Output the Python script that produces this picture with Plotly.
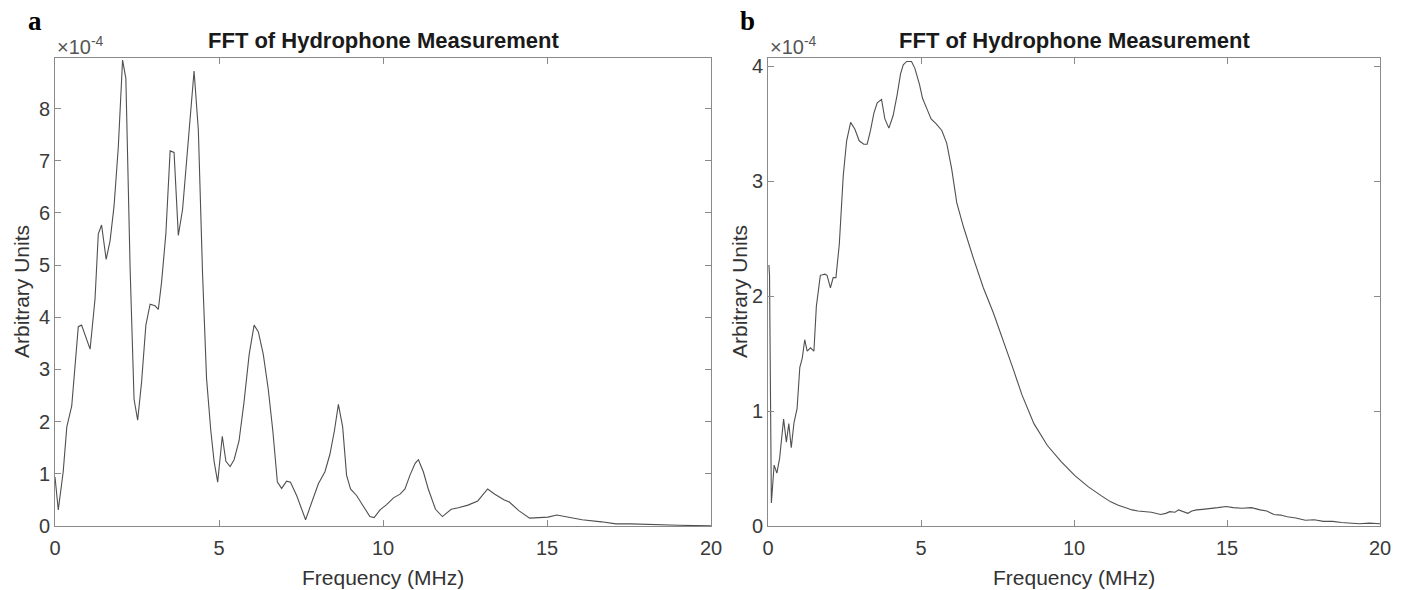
import plotly.graph_objects as go

# ---------------- data (amplitude in units of 1e-4) ----------------
freq_a = [0.0, 0.1, 0.25, 0.36, 0.51, 0.71, 0.81, 1.07, 1.22, 1.32, 1.42, 1.56, 1.68, 1.8, 1.93,
          2.06, 2.16, 2.29, 2.41, 2.52, 2.64, 2.77, 2.9, 3.05, 3.15, 3.25, 3.38, 3.51, 3.63, 3.76,
          3.89, 4.01, 4.12, 4.24, 4.37, 4.5, 4.62, 4.75, 4.85, 4.96, 5.1, 5.21, 5.34, 5.46, 5.61,
          5.76, 5.92, 6.07, 6.2, 6.35, 6.5, 6.64, 6.78, 6.91, 7.06, 7.18, 7.37, 7.64, 7.82, 8.03,
          8.23, 8.38, 8.52, 8.64, 8.77, 8.89, 9.01, 9.2, 9.4, 9.6, 9.73, 9.91, 10.11, 10.32, 10.52,
          10.67, 10.82, 10.98, 11.08, 11.23, 11.38, 11.6, 11.81, 12.08, 12.3, 12.59, 12.89, 13.19,
          13.41, 13.7, 13.85, 14.15, 14.47, 14.74, 15.03, 15.3, 15.55, 16.07, 16.66, 17.1, 17.55,
          18.29, 19.02, 20.0]
amp_a = [0.94, 0.31, 1.04, 1.9, 2.3, 3.82, 3.85, 3.39, 4.35, 5.6, 5.77, 5.11, 5.47, 6.13, 7.26,
         8.93, 8.58, 4.94, 2.43, 2.03, 2.76, 3.85, 4.25, 4.22, 4.15, 4.68, 5.6, 7.19, 7.16, 5.57,
         6.07, 7.0, 7.92, 8.72, 7.59, 4.81, 2.83, 1.83, 1.24, 0.84, 1.72, 1.24, 1.14, 1.27, 1.63,
         2.36, 3.29, 3.85, 3.72, 3.29, 2.63, 1.83, 0.84, 0.72, 0.86, 0.84, 0.58, 0.12, 0.44, 0.81,
         1.04, 1.37, 1.83, 2.33, 1.9, 0.97, 0.71, 0.58, 0.38, 0.18, 0.16, 0.31, 0.41, 0.54, 0.61,
         0.71, 0.97, 1.2, 1.27, 1.04, 0.71, 0.32, 0.18, 0.32, 0.35, 0.4, 0.48, 0.71,
         0.61, 0.5, 0.46, 0.29, 0.15, 0.16, 0.17, 0.21, 0.18, 0.12, 0.08, 0.04, 0.04,
         0.02, 0.013, 0.005]

freq_b = [0.03, 0.05, 0.11, 0.2, 0.29, 0.38, 0.51, 0.6, 0.68, 0.76, 0.85, 0.95, 1.04, 1.12, 1.2,
          1.28, 1.39, 1.5, 1.58, 1.71, 1.86, 1.93, 2.04, 2.13, 2.22, 2.33, 2.46, 2.57, 2.7, 2.84,
          2.98, 3.13, 3.24, 3.35, 3.46, 3.57, 3.71, 3.82, 3.95, 4.09, 4.22, 4.33, 4.42, 4.53, 4.69,
          4.8, 4.95, 5.05, 5.19, 5.33, 5.49, 5.68, 5.84, 6.0, 6.17, 6.39, 6.71, 7.04, 7.37, 7.7,
          8.02, 8.3, 8.69, 9.13, 9.58, 10.02, 10.47, 10.91, 11.2, 11.45, 11.65, 11.9, 12.09, 12.3,
          12.53, 12.83, 13.0, 13.13, 13.3, 13.42, 13.6, 13.72, 13.85, 14.01, 14.2, 14.46, 14.7,
          14.97, 15.2, 15.49, 15.8, 16.08, 16.3, 16.53, 16.75, 16.97, 17.25, 17.56, 17.85, 18.15,
          18.45, 18.74, 19.05, 19.33, 19.65, 20.0]
amp_b = [2.27, 2.18, 0.2, 0.53, 0.46, 0.59, 0.93, 0.73, 0.89, 0.68, 0.9, 1.02, 1.38, 1.46, 1.62,
         1.52, 1.55, 1.52, 1.91, 2.18, 2.19, 2.18, 2.07, 2.16, 2.16, 2.45, 3.05, 3.35, 3.51, 3.45,
         3.35, 3.32, 3.32, 3.44, 3.59, 3.68, 3.71, 3.54, 3.46, 3.57, 3.75, 3.93, 4.01, 4.04, 4.04,
         3.98, 3.84, 3.72, 3.63, 3.54, 3.5, 3.44, 3.33, 3.11, 2.81, 2.6, 2.33, 2.07, 1.85, 1.61,
         1.36, 1.14, 0.89, 0.7, 0.56, 0.44, 0.34, 0.26, 0.21, 0.18, 0.16, 0.14, 0.13, 0.125,
         0.12, 0.1, 0.11, 0.125, 0.12, 0.14, 0.12, 0.11, 0.13, 0.14, 0.145, 0.15, 0.16,
         0.17, 0.16, 0.155, 0.16, 0.14, 0.13, 0.1, 0.095, 0.08, 0.07, 0.05, 0.055, 0.04,
         0.04, 0.03, 0.025, 0.02, 0.025, 0.02]

x_ticks = [0, 5, 10, 15, 20]
y_ticks_a = [0, 1, 2, 3, 4, 5, 6, 7, 8]
y_ticks_b = [0, 1, 2, 3, 4]
title_text = "FFT of Hydrophone Measurement"
xlabel = "Frequency (MHz)"
ylabel = "Arbitrary Units"
exp_text = "×10<sup>-4</sup>"

# ---------------- layout geometry ----------------
W, H = 1406, 590
def px(x):
    return x / W
def py(y):
    return 1 - y / H

ax_left_a, ax_right_a = 55, 711
ax_left_b, ax_right_b = 768, 1380
ax_top, ax_bot = 58, 526

fig = go.Figure()
line_col = "#505050"
fig.add_trace(go.Scatter(x=freq_a, y=amp_a, mode="lines", line=dict(color=line_col, width=1.1),
                         xaxis="x", yaxis="y", showlegend=False, hoverinfo="skip"))
fig.add_trace(go.Scatter(x=freq_b, y=amp_b, mode="lines", line=dict(color=line_col, width=1.1),
                         xaxis="x2", yaxis="y2", showlegend=False, hoverinfo="skip"))

axis_col = "#8a8a8a"
tick_font = dict(family="Liberation Sans, Arial, sans-serif", size=20, color="#3a3a3a")
common_x = dict(range=[0, 20], tickvals=x_ticks, ticks="inside", ticklen=6, tickcolor=axis_col,
                showline=True, linecolor=axis_col, linewidth=1, mirror="ticks", showgrid=False,
                zeroline=False, tickfont=tick_font, ticklabelstandoff=4, automargin=False)
common_y = dict(ticks="inside", ticklen=6, tickcolor=axis_col, showline=True, linecolor=axis_col,
                linewidth=1, mirror="ticks", showgrid=False, zeroline=False, tickfont=tick_font,
                ticklabelstandoff=0, automargin=False)

fig.update_layout(
    width=W, height=H, margin=dict(l=0, r=0, t=0, b=0, autoexpand=False),
    paper_bgcolor="white", plot_bgcolor="white",
    xaxis=dict(domain=[px(ax_left_a), px(ax_right_a)], anchor="y", **common_x),
    yaxis=dict(domain=[py(ax_bot), py(ax_top)], anchor="x", range=[0, 8.97], tickvals=y_ticks_a, **common_y),
    xaxis2=dict(domain=[px(ax_left_b), px(ax_right_b)], anchor="y2", **common_x),
    yaxis2=dict(domain=[py(ax_bot), py(ax_top)], anchor="x2", range=[0, 4.07], tickvals=y_ticks_b, **common_y),
)

text_font = dict(family="Liberation Sans, Arial, sans-serif", size=21, color="#333333")
title_font = dict(family="Liberation Sans, Arial, sans-serif", size=22, color="#1a1a1a")
letter_font = dict(family="Liberation Serif, Times New Roman, serif", size=27, color="#000000")

anns = []
for (l, r, letter, lx, ylx) in [(ax_left_a, ax_right_a, "a", 35, 21), (ax_left_b, ax_right_b, "b", 747, 739)]:
    cx = (l + r) / 2
    anns.append(dict(text="<b>" + title_text + "</b>", x=px(cx), y=py(40), xref="paper", yref="paper",
                     xanchor="center", yanchor="middle", showarrow=False, font=title_font))
    anns.append(dict(text=xlabel, x=px(cx), y=py(577), xref="paper", yref="paper",
                     xanchor="center", yanchor="middle", showarrow=False, font=text_font))
    anns.append(dict(text=ylabel, x=px(ylx), y=py((ax_top + ax_bot) / 2), xref="paper", yref="paper",
                     xanchor="center", yanchor="middle", showarrow=False, textangle=-90, font=text_font))
    anns.append(dict(text=exp_text, x=px(l), y=py(ax_top + 2), xref="paper", yref="paper",
                     xanchor="left", yanchor="bottom", showarrow=False,
                     font=dict(family="Liberation Sans, Arial, sans-serif", size=20, color="#555555")))
    anns.append(dict(text="<b>" + letter + "</b>", x=px(lx), y=py(21), xref="paper", yref="paper",
                     xanchor="center", yanchor="middle", showarrow=False, font=letter_font))
fig.update_layout(annotations=anns)

fig.write_html("out.html", config={"displayModeBar": False},
               post_script="document.body.style.margin='0px';document.body.style.overflow='hidden';")
